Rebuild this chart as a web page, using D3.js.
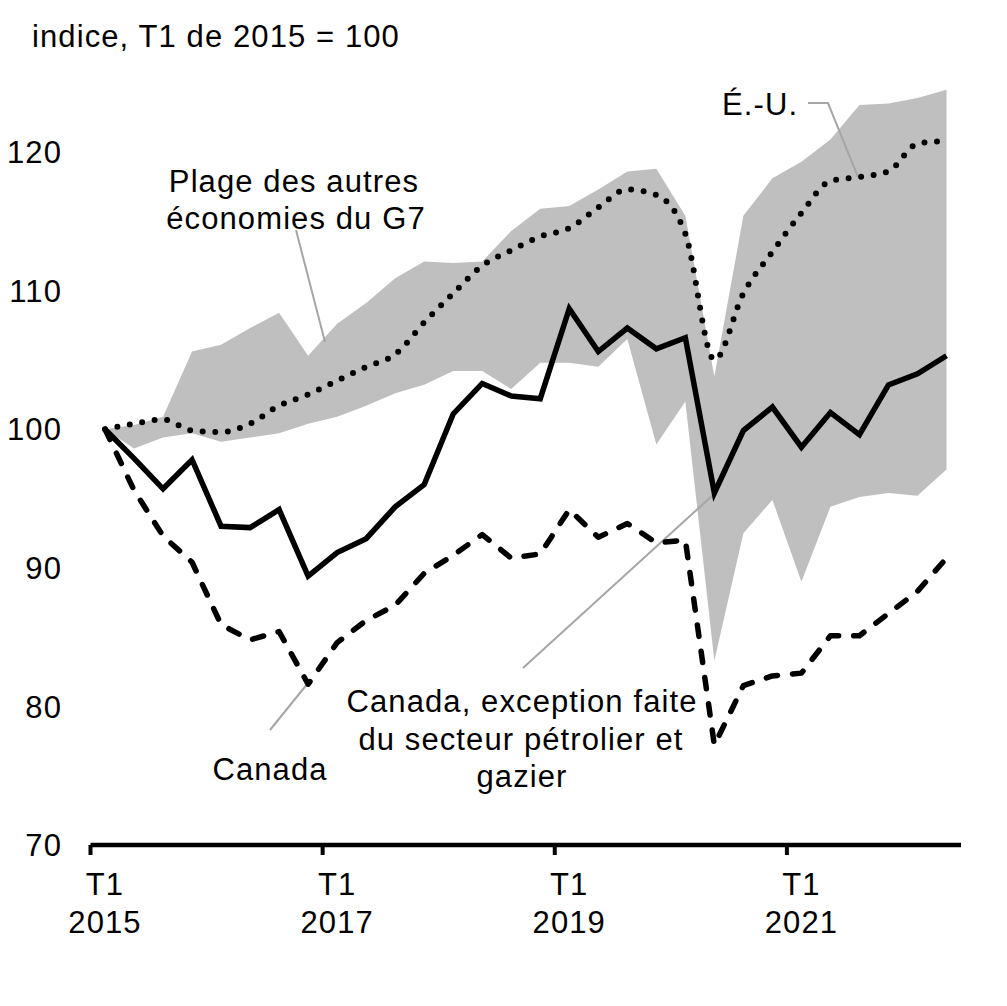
<!DOCTYPE html>
<html>
<head>
<meta charset="utf-8">
<script src="https://cdnjs.cloudflare.com/ajax/libs/d3/7.8.5/d3.min.js"></script>
<style>
  body { margin: 0; background: white; }
  text { font-family: "Liberation Sans", Arial, sans-serif; font-size: 31px; fill: black; letter-spacing: 1.1px; }
</style>
</head>
<body>
<div id="chart"></div>
<script>
// quarters 2015 T1 -> 2022 T2
let quarters = []
for (let yr = 2015; yr <= 2022; yr++) {
  for (let q = 1; q <= 4; q++) {
    if (yr == 2022 && q > 2) break
    quarters.push(yr + "T" + q)
  }
}

// Canada, exception faite du secteur petrolier et gazier (solid)
let canadaExOil = [100, 97.9, 95.7, 97.8, 93.0, 92.9, 94.2, 89.4, 91.1, 92.1,
  94.4, 96.0, 101.1, 103.3, 102.4, 102.2, 108.7, 105.6, 107.3, 105.8,
  106.6, 95.4, 99.9, 101.6, 98.7, 101.2, 99.6, 103.2, 104.0, 105.3]

// Canada (dashed)
let canada = [100, 95.6, 92.3, 90.4, 85.9, 84.8, 85.4, 81.6, 84.6, 86.2,
  87.3, 89.6, 90.9, 92.4, 90.7, 91.0, 94.2, 92.2, 93.2, 91.8,
  92.0, 77.2, 81.5, 82.2, 82.4, 85.1, 85.1, 86.7, 88.3, 90.7]

// E.-U. (dotted)
let usa = [100, 100.4, 100.7, 99.9, 99.8, 100.4, 101.7, 102.5, 103.5, 104.5,
  105.4, 107.7, 109.8, 111.8, 112.9, 113.9, 114.5, 116.0, 117.3, 116.9,
  114.1, 105.0, 109.8, 112.8, 115.6, 117.9, 118.2, 118.6, 120.6, 120.8]

// plage des autres economies du G7
let g7High = [100, 100.3, 100.9, 105.6, 106.1, 107.3, 108.4, 105.3, 107.6, 109.1,
  110.9, 112.1, 112.0, 112.1, 114.3, 115.9, 116.1, 117.3, 118.6, 118.8,
  115.4, 103.8, 115.4, 118.1, 119.3, 120.9, 123.4, 123.5, 123.9, 124.5]
let g7Low = [100, 98.6, 99.4, 99.7, 99.1, 99.4, 99.7, 100.4, 100.9, 101.7,
  102.6, 103.2, 104.2, 104.2, 102.9, 104.8, 104.8, 104.5, 106.5, 98.9,
  102.0, 83.3, 92.5, 94.9, 89.0, 94.4, 95.1, 95.4, 95.2, 97.1]

let yTicks = [70, 80, 90, 100, 110, 120]
let xTickQuarters = ["2015T1", "2017T1", "2019T1", "2021T1"]

let svg = d3.select("#chart")
  .append("svg")
  .attr("width", 1007)
  .attr("height", 1006)

let x = d3.scaleBand().domain(quarters).range([90.5, 961]).padding(0)
let y = d3.scaleLinear().domain([70, 120]).range([845, 152])
let cx = (q) => x(q) + x.bandwidth() / 2

// title
svg.append("text")
  .attr("x", 32)
  .attr("y", 47)
  .text("indice, T1 de 2015 = 100")

// range band
let band = quarters.map((q, i) => ({q: q, lo: g7Low[i], hi: g7High[i]}))
let area = d3.area()
  .x((d) => cx(d.q))
  .y0((d) => y(d.lo))
  .y1((d) => y(d.hi))
svg.append("path")
  .attr("d", area(band))
  .attr("fill", "#bfbfbf")

// y labels
svg.selectAll(".ylab")
  .data(yTicks)
  .enter()
  .append("text")
  .attr("class", "ylab")
  .attr("x", 62)
  .attr("y", (d) => y(d))
  .attr("dy", "0.36em")
  .attr("text-anchor", "end")
  .text((d) => d)

// x axis
let xAxis = d3.axisBottom(x)
  .tickValues(xTickQuarters)
  .tickSize(0)
  .tickFormat("")
let gx = svg.append("g")
  .attr("transform", "translate(0,845)")
  .call(xAxis)
gx.select(".domain").remove()
gx.append("line")
  .attr("x1", 90.5).attr("x2", 961)
  .attr("stroke", "black").attr("stroke-width", 4.5)
gx.selectAll(".tick").remove()
xTickQuarters.forEach((q) => {
  gx.append("line")
    .attr("x1", x(q)).attr("x2", x(q))
    .attr("y1", 0).attr("y2", 10)
    .attr("stroke", "black").attr("stroke-width", 4)
  gx.append("text")
    .attr("x", cx(q)).attr("y", 50)
    .attr("text-anchor", "middle")
    .text("T1")
  gx.append("text")
    .attr("x", cx(q)).attr("y", 88)
    .attr("text-anchor", "middle")
    .text(q.slice(0, 4))
})

// leader lines
let leaders = [
  [[296, 230], [325, 342]],
  [[808, 103], [828, 103], [858, 177]],
  [[270, 730], [308, 683]],
  [[523, 668], [713, 495]]
]
leaders.forEach((pts) => {
  svg.append("path")
    .attr("d", d3.line()(pts))
    .attr("fill", "none")
    .attr("stroke", "#a6a6a6")
    .attr("stroke-width", 2)
})

// lines
let lineLin = d3.line().x((d, i) => cx(quarters[i])).y((d) => y(d))
let lineSmooth = d3.line().x((d, i) => cx(quarters[i])).y((d) => y(d)).curve(d3.curveMonotoneX)

svg.append("path")
  .attr("d", lineSmooth(usa))
  .attr("fill", "none")
  .attr("stroke", "black")
  .attr("stroke-width", 6)
  .attr("stroke-linecap", "round")
  .attr("stroke-dasharray", "0 12.6")

svg.append("path")
  .attr("d", lineLin(canada))
  .attr("fill", "none")
  .attr("stroke", "black")
  .attr("stroke-width", 5.5)
  .attr("stroke-linecap", "round")
  .attr("stroke-linejoin", "round")
  .attr("stroke-dasharray", "11.5 15")

svg.append("path")
  .attr("d", lineLin(canadaExOil))
  .attr("fill", "none")
  .attr("stroke", "black")
  .attr("stroke-width", 5.5)
  .attr("stroke-linejoin", "miter")

// annotations
let notes = [
  {x: 294, y: 192, t: "Plage des autres", a: "middle"},
  {x: 296, y: 229, t: "économies du G7", a: "middle"},
  {x: 722, y: 115, t: "É.-U.", a: "start"},
  {x: 270, y: 780, t: "Canada", a: "middle"},
  {x: 522, y: 712, t: "Canada, exception faite", a: "middle"},
  {x: 521, y: 750, t: "du secteur pétrolier et", a: "middle"},
  {x: 522, y: 787, t: "gazier", a: "middle"}
]
svg.selectAll(".note")
  .data(notes)
  .enter()
  .append("text")
  .attr("class", "note")
  .attr("x", (d) => d.x)
  .attr("y", (d) => d.y)
  .attr("text-anchor", (d) => d.a)
  .text((d) => d.t)
</script>
</body>
</html>
